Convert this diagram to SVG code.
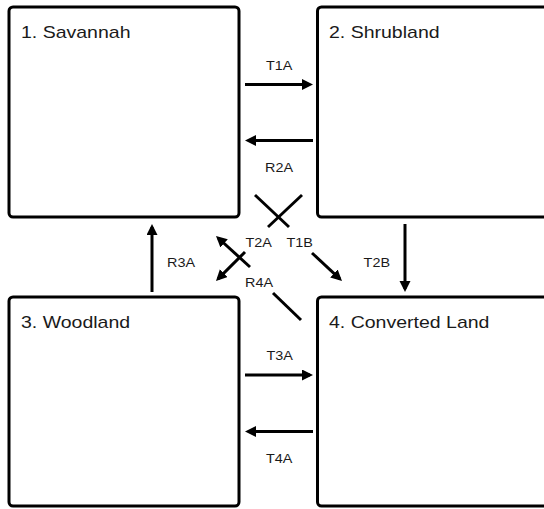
<svg xmlns="http://www.w3.org/2000/svg" width="544" height="509" viewBox="0 0 544 509">
<style>
.box{fill:#fff;stroke:#000;stroke-width:3}
.t{font-family:"Liberation Sans",Arial,sans-serif;fill:#1a1a1a}
.big{font-size:16px}
.sm{font-size:12px}
.c{stroke:#000;stroke-width:3;fill:none}
.a{marker-end:url(#ah)}
</style>
<defs>
<marker id="ah" markerUnits="userSpaceOnUse" markerWidth="12" markerHeight="12" refX="8" refY="5.5" orient="auto">
<path d="M0,0 L11,5.5 L0,11 Z" fill="#000"/>
</marker>
</defs>
<rect width="544" height="509" fill="#fff"/>
<g id="node1"><rect class="box" x="9" y="7" width="230" height="210" rx="4"/><text class="t big" transform="translate(21,37.5) scale(1.22,1)">1. Savannah</text></g>
<g id="node2"><rect class="box" x="317.5" y="7" width="240" height="210" rx="4"/><text class="t big" transform="translate(329,37.5) scale(1.22,1)">2. Shrubland</text></g>
<g id="node3"><rect class="box" x="9" y="297" width="230" height="209" rx="4"/><text class="t big" transform="translate(21,327.5) scale(1.22,1)">3. Woodland</text></g>
<g id="node4"><rect class="box" x="317.5" y="297" width="240" height="209" rx="4"/><text class="t big" transform="translate(329,327.5) scale(1.22,1)">4. Converted Land</text></g>
<g id="connectors">
<line class="c a" x1="245" y1="84.5" x2="310" y2="84.5"/>
<line class="c a" x1="313" y1="140.5" x2="248" y2="140.5"/>
<line class="c a" x1="245" y1="375" x2="310" y2="375"/>
<line class="c a" x1="313" y1="431.5" x2="248" y2="431.5"/>
<line class="c a" x1="152" y1="292" x2="152" y2="227"/>
<line class="c a" x1="405" y1="224" x2="405" y2="289"/>
<line class="c" x1="255" y1="195" x2="289" y2="227"/>
<line class="c" x1="302" y1="195" x2="268" y2="227"/>
<line class="c a" x1="250" y1="267" x2="218.2" y2="238"/>
<line class="c a" x1="245" y1="252" x2="218.1" y2="278.9"/>
<line class="c a" x1="312" y1="253" x2="339.8" y2="278.9"/>
<line class="c" x1="273" y1="293" x2="301" y2="320"/>
</g>
<g id="labels">
<text class="t sm" transform="translate(266,70) scale(1.2,1)">T1A</text>
<text class="t sm" transform="translate(265,172) scale(1.2,1)">R2A</text>
<text class="t sm" transform="translate(266.5,360) scale(1.2,1)">T3A</text>
<text class="t sm" transform="translate(266,463) scale(1.2,1)">T4A</text>
<text class="t sm" transform="translate(245.5,246.5) scale(1.2,1)">T2A</text>
<text class="t sm" transform="translate(286.5,246.5) scale(1.2,1)">T1B</text>
<text class="t sm" transform="translate(245,287) scale(1.2,1)">R4A</text>
<text class="t sm" transform="translate(167,267) scale(1.2,1)">R3A</text>
<text class="t sm" transform="translate(363.6,267) scale(1.2,1)">T2B</text>
</g>
</svg>
